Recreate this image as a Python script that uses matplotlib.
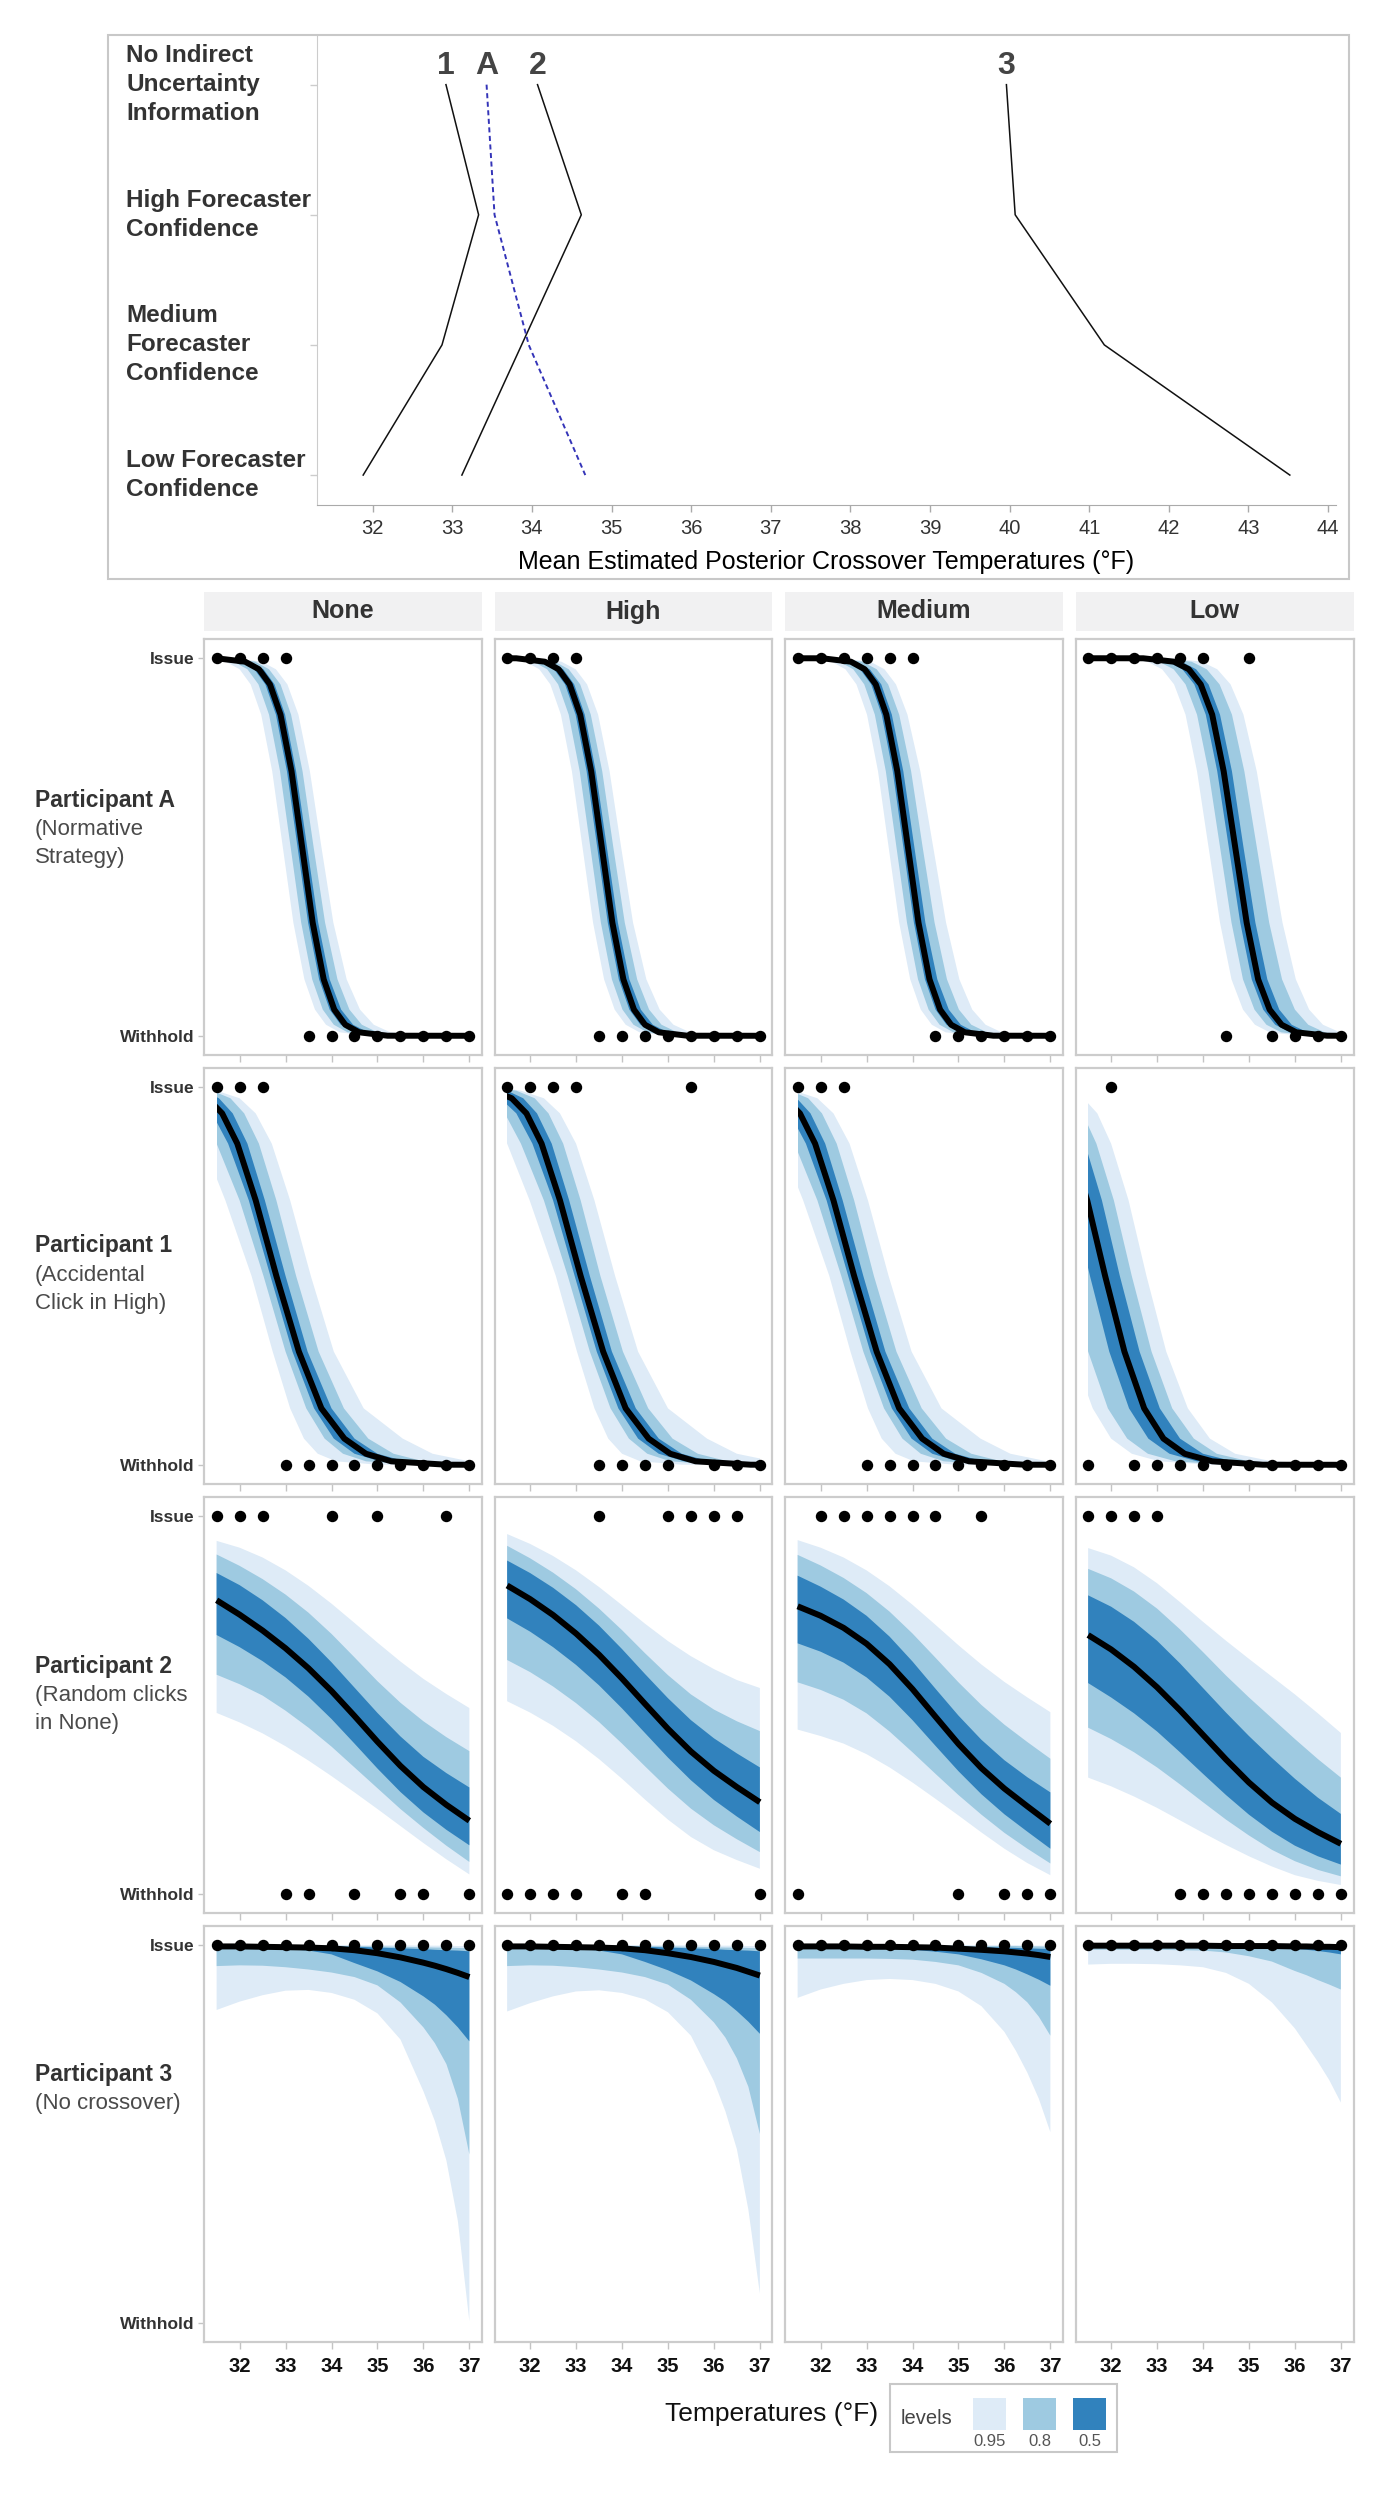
import matplotlib
matplotlib.use('Agg')
import matplotlib.pyplot as plt
from matplotlib.patches import Rectangle

plt.rcParams['font.family'] = ['Liberation Sans', 'DejaVu Sans']

# ---------------- top chart: mean estimated posterior crossover ----------------
CONDITIONS = ['No Indirect\nUncertainty\nInformation', 'High Forecaster\nConfidence',
              'Medium\nForecaster\nConfidence', 'Low Forecaster\nConfidence']
COND_Y = [3, 2, 1, 0]
CROSS_1 = [32.92, 33.33, 32.87, 31.88]
CROSS_A = [33.43, 33.53, 33.96, 34.67]
CROSS_2 = [34.07, 34.62, 33.87, 33.12]
CROSS_3 = [39.96, 40.07, 41.19, 43.52]
TOP_TICKS = [32, 33, 34, 35, 36, 37, 38, 39, 40, 41, 42, 43, 44]

# ---------------- facet grid ----------------
COLUMNS = ['None', 'High', 'Medium', 'Low']
ROW_TITLES = ['Participant A', 'Participant 1', 'Participant 2', 'Participant 3']
ROW_NOTES = [['(Normative', 'Strategy)'], ['(Accidental', 'Click in High)'],
             ['(Random clicks', 'in None)'], ['(No crossover)']]
TEMPS = [31.5, 32.0, 32.5, 33.0, 33.5, 34.0, 34.5, 35.0, 35.5, 36.0, 36.5, 37.0]
BOTTOM_TICKS = [32, 33, 34, 35, 36, 37]

# responses per temperature (1 = Issue, 0 = Withhold), one list per column
RESP_A = [[1, 1, 1, 1, 0, 0, 0, 0, 0, 0, 0, 0],
          [1, 1, 1, 1, 0, 0, 0, 0, 0, 0, 0, 0],
          [1, 1, 1, 1, 1, 1, 0, 0, 0, 0, 0, 0],
          [1, 1, 1, 1, 1, 1, 0, 1, 0, 0, 0, 0]]
RESP_1 = [[1, 1, 1, 0, 0, 0, 0, 0, 0, 0, 0, 0],
          [1, 1, 1, 1, 0, 0, 0, 0, 1, 0, 0, 0],
          [1, 1, 1, 0, 0, 0, 0, 0, 0, 0, 0, 0],
          [0, 1, 0, 0, 0, 0, 0, 0, 0, 0, 0, 0]]
RESP_2 = [[1, 1, 1, 0, 0, 1, 0, 1, 0, 0, 1, 0],
          [0, 0, 0, 0, 1, 0, 0, 1, 1, 1, 1, 0],
          [0, 1, 1, 1, 1, 1, 1, 0, 1, 0, 0, 0],
          [1, 1, 1, 1, 0, 0, 0, 0, 0, 0, 0, 0]]
RESP_3 = [[1, 1, 1, 1, 1, 1, 1, 1, 1, 1, 1, 1],
          [1, 1, 1, 1, 1, 1, 1, 1, 1, 1, 1, 1],
          [1, 1, 1, 1, 1, 1, 1, 1, 1, 1, 1, 1],
          [1, 1, 1, 1, 1, 1, 1, 1, 1, 1, 1, 1]]

# Participants A and 1: temperature where each curve passes these probabilities
# curve order: lo95, lo80, lo50, median, hi50, hi80, hi95
LEVELS = [0.999, 0.99, 0.97, 0.93, 0.85, 0.7, 0.5, 0.3, 0.15, 0.07, 0.03, 0.01, 0.001]

A_NONE = [[31.08, 31.70, 32.00, 32.24, 32.47, 32.71, 32.94, 33.17, 33.41, 33.64, 33.88, 34.18, 34.80],
          [31.25, 31.87, 32.17, 32.41, 32.64, 32.88, 33.11, 33.34, 33.58, 33.81, 34.05, 34.35, 34.97],
          [31.40, 32.02, 32.32, 32.56, 32.79, 33.03, 33.26, 33.49, 33.73, 33.96, 34.20, 34.50, 35.12],
          [31.50, 32.12, 32.42, 32.66, 32.89, 33.13, 33.36, 33.59, 33.83, 34.06, 34.30, 34.60, 35.22],
          [31.60, 32.22, 32.52, 32.76, 32.99, 33.23, 33.47, 33.71, 33.96, 34.21, 34.47, 34.79, 35.44],
          [31.72, 32.34, 32.64, 32.89, 33.12, 33.37, 33.61, 33.86, 34.13, 34.39, 34.66, 35.00, 35.67],
          [31.86, 32.48, 32.79, 33.04, 33.28, 33.53, 33.78, 34.04, 34.33, 34.62, 34.92, 35.28, 35.97]]
A_HIGH = [[31.28, 31.90, 32.20, 32.44, 32.67, 32.91, 33.14, 33.37, 33.61, 33.84, 34.08, 34.38, 35.00],
          [31.45, 32.07, 32.37, 32.61, 32.84, 33.08, 33.31, 33.54, 33.78, 34.01, 34.25, 34.55, 35.17],
          [31.60, 32.22, 32.52, 32.76, 32.99, 33.23, 33.46, 33.69, 33.93, 34.16, 34.40, 34.70, 35.32],
          [31.70, 32.32, 32.62, 32.86, 33.09, 33.33, 33.56, 33.79, 34.03, 34.26, 34.50, 34.80, 35.42],
          [31.80, 32.42, 32.72, 32.96, 33.19, 33.43, 33.67, 33.91, 34.16, 34.41, 34.67, 34.99, 35.64],
          [31.92, 32.54, 32.84, 33.09, 33.32, 33.57, 33.81, 34.06, 34.33, 34.59, 34.86, 35.20, 35.87],
          [32.06, 32.68, 32.99, 33.24, 33.48, 33.73, 33.98, 34.24, 34.53, 34.82, 35.12, 35.48, 36.17]]
A_MEDIUM = [[31.62, 32.24, 32.54, 32.78, 33.01, 33.25, 33.48, 33.71, 33.95, 34.18, 34.42, 34.72, 35.34],
            [31.79, 32.41, 32.71, 32.95, 33.18, 33.42, 33.65, 33.88, 34.12, 34.35, 34.59, 34.89, 35.51],
            [31.94, 32.56, 32.86, 33.10, 33.33, 33.57, 33.80, 34.03, 34.27, 34.50, 34.74, 35.04, 35.66],
            [32.04, 32.66, 32.96, 33.20, 33.43, 33.67, 33.90, 34.13, 34.37, 34.60, 34.84, 35.14, 35.76],
            [32.15, 32.77, 33.07, 33.32, 33.55, 33.80, 34.04, 34.28, 34.54, 34.79, 35.05, 35.37, 36.02],
            [32.29, 32.91, 33.22, 33.47, 33.71, 33.97, 34.22, 34.48, 34.75, 35.01, 35.28, 35.62, 36.28],
            [32.46, 33.08, 33.39, 33.64, 33.89, 34.17, 34.45, 34.73, 35.02, 35.30, 35.59, 35.94, 36.61]]
A_LOW = [[32.12, 32.79, 33.11, 33.37, 33.62, 33.87, 34.12, 34.37, 34.62, 34.87, 35.13, 35.45, 36.12],
         [32.37, 33.04, 33.36, 33.62, 33.87, 34.12, 34.37, 34.62, 34.87, 35.12, 35.38, 35.70, 36.37],
         [32.56, 33.23, 33.55, 33.81, 34.06, 34.31, 34.56, 34.81, 35.06, 35.31, 35.57, 35.89, 36.56],
         [32.70, 33.37, 33.69, 33.95, 34.20, 34.45, 34.70, 34.95, 35.20, 35.45, 35.71, 36.03, 36.70],
         [32.86, 33.53, 33.85, 34.12, 34.37, 34.63, 34.88, 35.14, 35.40, 35.66, 35.93, 36.27, 36.96],
         [33.08, 33.75, 34.08, 34.36, 34.63, 34.90, 35.17, 35.44, 35.72, 36.00, 36.29, 36.65, 37.36],
         [33.30, 33.97, 34.31, 34.60, 34.88, 35.17, 35.45, 35.73, 36.02, 36.31, 36.61, 36.98, 37.70]]

P1_NONE = [[29.0, 29.8, 30.3, 30.8, 31.2, 31.69, 32.26, 32.72, 33.1, 33.4, 33.7, 34.1, 35.0],
           [29.5, 30.3, 30.8, 31.15, 31.5, 32.0, 32.52, 33.0, 33.45, 33.85, 34.25, 34.75, 35.8],
           [29.9, 30.6, 31.05, 31.4, 31.75, 32.2, 32.67, 33.15, 33.62, 34.05, 34.5, 35.05, 36.2],
           [30.3, 30.9, 31.3, 31.62, 31.95, 32.35, 32.8, 33.29, 33.78, 34.28, 34.75, 35.3, 36.5],
           [30.6, 31.2, 31.55, 31.85, 32.17, 32.55, 33.0, 33.48, 34.0, 34.5, 35.0, 35.6, 37.0],
           [30.8, 31.4, 31.8, 32.1, 32.42, 32.8, 33.23, 33.72, 34.27, 34.8, 35.35, 36.0, 37.5],
           [31.0, 31.5, 32.0, 32.35, 32.7, 33.1, 33.55, 34.05, 34.7, 35.55, 36.2, 37.0, 38.0]]
P1_HIGH = [[29.3, 30.1, 30.6, 31.1, 31.5, 31.99, 32.56, 33.02, 33.4, 33.7, 34.0, 34.4, 35.3],
           [29.8, 30.6, 31.1, 31.45, 31.8, 32.3, 32.82, 33.3, 33.75, 34.15, 34.55, 35.05, 36.1],
           [30.2, 30.9, 31.35, 31.7, 32.05, 32.5, 32.97, 33.45, 33.92, 34.35, 34.8, 35.35, 36.5],
           [30.6, 31.2, 31.6, 31.92, 32.25, 32.65, 33.1, 33.59, 34.08, 34.58, 35.05, 35.6, 36.8],
           [30.9, 31.5, 31.85, 32.15, 32.47, 32.85, 33.3, 33.78, 34.3, 34.8, 35.3, 35.9, 37.3],
           [31.1, 31.7, 32.1, 32.4, 32.72, 33.1, 33.53, 34.02, 34.57, 35.1, 35.65, 36.3, 37.8],
           [31.3, 31.8, 32.3, 32.65, 33.0, 33.4, 33.85, 34.35, 35.0, 35.85, 36.5, 37.3, 38.3]]
P1_MEDIUM = [[28.93, 29.73, 30.23, 30.73, 31.13, 31.62, 32.19, 32.65, 33.03, 33.33, 33.63, 34.03, 34.93],
             [29.43, 30.23, 30.73, 31.08, 31.43, 31.93, 32.45, 32.93, 33.38, 33.78, 34.18, 34.68, 35.73],
             [29.83, 30.53, 30.98, 31.33, 31.68, 32.13, 32.6, 33.08, 33.55, 33.98, 34.43, 34.98, 36.13],
             [30.23, 30.83, 31.23, 31.55, 31.88, 32.28, 32.73, 33.22, 33.71, 34.21, 34.68, 35.23, 36.43],
             [30.53, 31.13, 31.48, 31.78, 32.1, 32.48, 32.93, 33.41, 33.93, 34.43, 34.93, 35.53, 36.93],
             [30.73, 31.33, 31.73, 32.03, 32.35, 32.73, 33.16, 33.65, 34.2, 34.73, 35.28, 35.93, 37.43],
             [30.93, 31.43, 31.93, 32.28, 32.63, 33.03, 33.48, 33.98, 34.63, 35.48, 36.13, 36.93, 37.93]]
P1_LOW = [[27.5, 28.5, 29.0, 29.4, 29.8, 30.25, 30.7, 31.15, 31.6, 32.0, 32.45, 33.05, 34.15],
          [28.5, 29.2, 29.65, 30.0, 30.3, 30.7, 31.08, 31.5, 31.93, 32.35, 32.8, 33.4, 34.5],
          [29.1, 29.75, 30.15, 30.47, 30.77, 31.15, 31.54, 31.96, 32.39, 32.81, 33.27, 33.87, 34.97],
          [29.5, 30.1, 30.5, 30.8, 31.1, 31.48, 31.87, 32.29, 32.72, 33.14, 33.6, 34.2, 35.3],
          [29.8, 30.42, 30.82, 31.12, 31.43, 31.8, 32.19, 32.62, 33.06, 33.5, 34.0, 34.65, 35.8],
          [30.1, 30.68, 31.08, 31.38, 31.68, 32.06, 32.45, 32.88, 33.33, 33.8, 34.3, 35.0, 36.3],
          [30.4, 31.0, 31.4, 31.7, 32.0, 32.38, 32.77, 33.2, 33.67, 34.15, 34.7, 35.5, 37.0]]

# Participant 2: probability of each curve at TEMPS
P2_NONE = [[0.479, 0.454, 0.425, 0.391, 0.353, 0.312, 0.269, 0.225, 0.180, 0.135, 0.092, 0.052],
           [0.580, 0.555, 0.525, 0.485, 0.440, 0.390, 0.335, 0.280, 0.225, 0.175, 0.128, 0.085],
           [0.685, 0.653, 0.616, 0.573, 0.522, 0.463, 0.398, 0.332, 0.270, 0.216, 0.170, 0.129],
           [0.777, 0.739, 0.697, 0.650, 0.597, 0.537, 0.471, 0.403, 0.339, 0.283, 0.236, 0.194],
           [0.849, 0.817, 0.777, 0.730, 0.675, 0.613, 0.546, 0.479, 0.417, 0.363, 0.320, 0.282],
           [0.898, 0.868, 0.833, 0.792, 0.744, 0.688, 0.626, 0.563, 0.506, 0.457, 0.415, 0.378],
           [0.934, 0.916, 0.890, 0.856, 0.815, 0.768, 0.717, 0.665, 0.615, 0.569, 0.529, 0.492]]
P2_HIGH = [[0.510, 0.480, 0.445, 0.404, 0.357, 0.305, 0.250, 0.197, 0.151, 0.116, 0.090, 0.067],
           [0.619, 0.587, 0.549, 0.505, 0.455, 0.398, 0.338, 0.279, 0.226, 0.182, 0.145, 0.111],
           [0.729, 0.694, 0.653, 0.606, 0.552, 0.491, 0.426, 0.361, 0.301, 0.249, 0.205, 0.164],
           [0.816, 0.780, 0.738, 0.689, 0.633, 0.570, 0.503, 0.437, 0.377, 0.326, 0.283, 0.243],
           [0.882, 0.849, 0.810, 0.764, 0.710, 0.648, 0.582, 0.518, 0.460, 0.412, 0.372, 0.335],
           [0.921, 0.888, 0.850, 0.806, 0.755, 0.698, 0.637, 0.579, 0.528, 0.488, 0.457, 0.431],
           [0.952, 0.926, 0.894, 0.856, 0.812, 0.764, 0.715, 0.669, 0.629, 0.595, 0.566, 0.545]]
P2_MEDIUM = [[0.435, 0.418, 0.398, 0.370, 0.335, 0.295, 0.252, 0.208, 0.163, 0.120, 0.082, 0.050],
             [0.560, 0.540, 0.514, 0.478, 0.430, 0.375, 0.318, 0.262, 0.210, 0.162, 0.120, 0.081],
             [0.663, 0.641, 0.612, 0.573, 0.522, 0.460, 0.392, 0.325, 0.264, 0.211, 0.165, 0.120],
             [0.761, 0.736, 0.704, 0.662, 0.608, 0.542, 0.469, 0.397, 0.333, 0.279, 0.232, 0.186],
             [0.842, 0.813, 0.779, 0.736, 0.681, 0.615, 0.543, 0.472, 0.408, 0.354, 0.309, 0.269],
             [0.897, 0.869, 0.836, 0.796, 0.747, 0.689, 0.625, 0.560, 0.500, 0.448, 0.402, 0.358],
             [0.936, 0.916, 0.890, 0.856, 0.814, 0.765, 0.712, 0.658, 0.607, 0.561, 0.520, 0.481]]
P2_LOW = [[0.308, 0.285, 0.258, 0.228, 0.195, 0.162, 0.130, 0.100, 0.073, 0.050, 0.035, 0.024],
          [0.440, 0.410, 0.375, 0.335, 0.290, 0.243, 0.197, 0.155, 0.117, 0.087, 0.064, 0.047],
          [0.558, 0.520, 0.478, 0.430, 0.375, 0.318, 0.262, 0.210, 0.165, 0.128, 0.100, 0.078],
          [0.685, 0.647, 0.601, 0.547, 0.486, 0.421, 0.356, 0.295, 0.242, 0.199, 0.164, 0.133],
          [0.790, 0.760, 0.720, 0.670, 0.610, 0.545, 0.480, 0.418, 0.360, 0.305, 0.255, 0.212],
          [0.860, 0.835, 0.800, 0.755, 0.700, 0.640, 0.578, 0.520, 0.465, 0.410, 0.357, 0.308],
          [0.915, 0.895, 0.864, 0.822, 0.772, 0.720, 0.670, 0.622, 0.575, 0.528, 0.478, 0.426]]

# Participant 3: probability of each curve at P3_TEMPS
P3_TEMPS = [31.5, 32.0, 32.5, 33.0, 33.5, 34.0, 34.5, 35.0, 35.5, 36.0, 36.25, 36.5, 36.75, 37.0]
P3_NONE = [[0.828, 0.850, 0.867, 0.879, 0.881, 0.873, 0.855, 0.819, 0.750, 0.613, 0.534, 0.430, 0.270, 0.005],
           [0.944, 0.946, 0.945, 0.941, 0.935, 0.927, 0.915, 0.893, 0.848, 0.782, 0.740, 0.685, 0.593, 0.446],
           [0.993, 0.992, 0.991, 0.989, 0.985, 0.975, 0.952, 0.930, 0.902, 0.864, 0.842, 0.814, 0.782, 0.745],
           [0.996, 0.996, 0.995, 0.994, 0.993, 0.991, 0.986, 0.978, 0.967, 0.953, 0.945, 0.936, 0.926, 0.915],
           [0.998, 0.998, 0.997, 0.997, 0.996, 0.996, 0.995, 0.993, 0.991, 0.989, 0.987, 0.986, 0.985, 0.983],
           [0.999, 0.999, 0.998, 0.998, 0.998, 0.998, 0.997, 0.996, 0.995, 0.994, 0.993, 0.993, 0.992, 0.991],
           [1.000, 1.000, 1.000, 1.000, 0.999, 0.999, 0.999, 0.999, 0.999, 0.998, 0.998, 0.998, 0.997, 0.997]]
P3_HIGH = [[0.824, 0.846, 0.864, 0.877, 0.880, 0.873, 0.856, 0.822, 0.760, 0.640, 0.560, 0.460, 0.300, 0.078],
           [0.944, 0.946, 0.945, 0.941, 0.935, 0.927, 0.915, 0.895, 0.855, 0.795, 0.755, 0.700, 0.625, 0.500],
           [0.994, 0.993, 0.992, 0.990, 0.985, 0.975, 0.955, 0.933, 0.906, 0.870, 0.850, 0.825, 0.797, 0.765],
           [0.996, 0.996, 0.995, 0.994, 0.993, 0.991, 0.986, 0.978, 0.968, 0.955, 0.947, 0.939, 0.929, 0.919],
           [0.998, 0.998, 0.997, 0.997, 0.996, 0.996, 0.995, 0.993, 0.991, 0.989, 0.987, 0.986, 0.985, 0.983],
           [0.999, 0.999, 0.998, 0.998, 0.998, 0.998, 0.997, 0.996, 0.995, 0.994, 0.993, 0.993, 0.992, 0.991],
           [1.000, 1.000, 1.000, 1.000, 0.999, 0.999, 0.999, 0.999, 0.999, 0.998, 0.998, 0.998, 0.997, 0.997]]
P3_MEDIUM = [[0.860, 0.882, 0.897, 0.907, 0.910, 0.907, 0.897, 0.877, 0.838, 0.770, 0.720, 0.662, 0.593, 0.505],
             [0.964, 0.964, 0.964, 0.964, 0.963, 0.961, 0.955, 0.946, 0.926, 0.897, 0.875, 0.848, 0.810, 0.760],
             [0.994, 0.994, 0.993, 0.992, 0.990, 0.987, 0.982, 0.975, 0.962, 0.946, 0.935, 0.922, 0.908, 0.892],
             [0.996, 0.996, 0.996, 0.995, 0.995, 0.994, 0.993, 0.990, 0.987, 0.983, 0.980, 0.977, 0.973, 0.968],
             [0.998, 0.998, 0.998, 0.997, 0.997, 0.997, 0.996, 0.995, 0.994, 0.993, 0.992, 0.991, 0.990, 0.989],
             [0.999, 0.999, 0.999, 0.998, 0.998, 0.998, 0.998, 0.998, 0.997, 0.997, 0.997, 0.996, 0.996, 0.995],
             [1.000, 1.000, 1.000, 1.000, 1.000, 0.999, 0.999, 0.999, 0.999, 0.999, 0.999, 0.998, 0.998, 0.998]]
P3_LOW = [[0.948, 0.950, 0.950, 0.949, 0.946, 0.941, 0.926, 0.897, 0.848, 0.779, 0.735, 0.691, 0.642, 0.583],
          [0.987, 0.987, 0.987, 0.987, 0.986, 0.985, 0.980, 0.970, 0.956, 0.931, 0.920, 0.907, 0.895, 0.882],
          [0.997, 0.997, 0.997, 0.997, 0.996, 0.996, 0.995, 0.994, 0.992, 0.990, 0.987, 0.984, 0.980, 0.975],
          [0.998, 0.998, 0.998, 0.998, 0.998, 0.998, 0.997, 0.997, 0.997, 0.996, 0.996, 0.995, 0.995, 0.994],
          [0.999, 0.999, 0.999, 0.999, 0.999, 0.999, 0.999, 0.999, 0.998, 0.998, 0.998, 0.998, 0.998, 0.997],
          [1.000, 1.000, 1.000, 1.000, 1.000, 1.000, 0.999, 0.999, 0.999, 0.999, 0.999, 0.999, 0.999, 0.999],
          [1.000, 1.000, 1.000, 1.000, 1.000, 1.000, 1.000, 1.000, 1.000, 1.000, 1.000, 1.000, 1.000, 1.000]]

LEVEL_NAMES = ['0.95', '0.8', '0.5']
C95, C80, C50 = '#deebf7', '#9ecae1', '#3182bd'

# ---------------- layout (pixels) ----------------
W, H = 1395, 2500
COL_X = [204, 494.5, 785, 1075.5]
PANEL_W = 278
ROW_Y = [639, 1068, 1497, 1926]
PANEL_H = 416
ROW_LABEL_Y = [800, 1246, 1666, 2074]

fig = plt.figure(figsize=(W / 100, H / 100), dpi=100)


def px_axes(left, top, width, height):
    return fig.add_axes([left / W, 1 - (top + height) / H, width / W, height / H])


def px_rect(left, top, width, height, **kw):
    r = Rectangle((left / W, 1 - (top + height) / H), width / W, height / H,
                  transform=fig.transFigure, **kw)
    fig.patches.append(r)
    return r


# ---------------- top chart ----------------
px_rect(108, 35, 1241, 544, fill=False, edgecolor='#c8c8c8', lw=1.5)
top = px_axes(317, 36.5, 1019, 468.5)
top.plot(CROSS_1, COND_Y, color='#111111', lw=1.1)
top.plot(CROSS_2, COND_Y, color='#111111', lw=1.1)
top.plot(CROSS_3, COND_Y, color='#111111', lw=1.1)
top.plot(CROSS_A, COND_Y, color='#3434b8', lw=1.4, ls=(0, (2.6, 1.8)))
for name, xs in (('1', CROSS_1), ('A', CROSS_A), ('2', CROSS_2), ('3', CROSS_3)):
    top.text(xs[0], 3.14, name, ha='center', va='center', fontsize=23,
             fontweight='bold', color='#444444')
top.set_xlim(31.30, 44.10)
top.set_ylim(-0.23, 3.37)
top.set_xticks(TOP_TICKS)
top.set_xticklabels([str(t) for t in TOP_TICKS], fontsize=14.5, color='#333333')
top.set_yticks(COND_Y)
top.set_yticklabels([])
top.tick_params(axis='x', length=5, width=1, color='#aaaaaa', pad=5)
top.tick_params(axis='y', length=5, width=1, color='#cccccc')
for s in ('top', 'right'):
    top.spines[s].set_visible(False)
top.spines['left'].set_color('#cccccc')
top.spines['bottom'].set_color('#aaaaaa')
top.set_xlabel('Mean Estimated Posterior Crossover Temperatures (°F)', fontsize=18,
               labelpad=9)
for lab, yv in zip(CONDITIONS, COND_Y):
    top.text((126 - 317) / 1019, yv, lab, transform=top.get_yaxis_transform(),
             ha='left', va='center', fontsize=17.5, fontweight='bold',
             color='#333333', linespacing=1.33)

# ---------------- facet panels ----------------
SIGMOID_ROWS = [[A_NONE, A_HIGH, A_MEDIUM, A_LOW], [P1_NONE, P1_HIGH, P1_MEDIUM, P1_LOW]]
GRID_ROWS = [[P2_NONE, P2_HIGH, P2_MEDIUM, P2_LOW], [P3_NONE, P3_HIGH, P3_MEDIUM, P3_LOW]]
GRID_X = [TEMPS, P3_TEMPS]
RESPONSES = [RESP_A, RESP_1, RESP_2, RESP_3]


def draw_sigmoid(ax, curves):
    ys = [1.0] + LEVELS + [0.0]
    ext = [[20.0] + list(cv) + [45.0] for cv in curves]
    clip = Rectangle((TEMPS[0], -0.2), TEMPS[-1] - TEMPS[0], 1.4, transform=ax.transData)
    for lo, hi, colr in ((0, 6, C95), (1, 5, C80), (2, 4, C50)):
        band = ax.fill_betweenx(ys, ext[lo], ext[hi], facecolor=colr, edgecolor='none')
        band.set_clip_path(clip)
    ln, = ax.plot(ext[3], ys, color='black', lw=4.3, solid_capstyle='butt',
                  solid_joinstyle='round', zorder=3)
    ln.set_clip_path(clip)


def draw_grid(ax, xs, curves):
    for lo, hi, colr in ((0, 6, C95), (1, 5, C80), (2, 4, C50)):
        ax.fill_between(xs, curves[lo], curves[hi], facecolor=colr, edgecolor='none')
    ax.plot(xs, curves[3], color='black', lw=4.3, solid_capstyle='butt',
            solid_joinstyle='round', zorder=3)


for c, name in enumerate(COLUMNS):
    strip = px_axes(COL_X[c], 592, PANEL_W, 39)
    strip.set_facecolor('#f1f1f2')
    strip.set_xticks([])
    strip.set_yticks([])
    for s in strip.spines.values():
        s.set_visible(False)
    strip.text(0.5, 0.5, name, ha='center', va='center', fontsize=18,
               fontweight='bold', color='#333333', transform=strip.transAxes)

for r in range(4):
    for c in range(4):
        ax = px_axes(COL_X[c], ROW_Y[r], PANEL_W, PANEL_H)
        if r < 2:
            draw_sigmoid(ax, SIGMOID_ROWS[r][c])
        else:
            draw_grid(ax, GRID_X[r - 2], GRID_ROWS[r - 2][c])
        ax.plot(TEMPS, RESPONSES[r][c], 'o', color='black', ms=7.2, zorder=4)
        ax.set_xlim(31.225, 37.275)
        ax.set_ylim(-0.05, 1.05)
        for s in ax.spines.values():
            s.set_color('#cccccc')
            s.set_linewidth(1.6)
        ax.set_xticks(BOTTOM_TICKS)
        ax.tick_params(axis='x', length=5, width=1, color='#c4c4c4', pad=6)
        if r == 3:
            ax.set_xticklabels([str(t) for t in BOTTOM_TICKS], fontsize=14.5,
                               fontweight='bold', color='#111111')
        else:
            ax.set_xticklabels([])
        if c == 0:
            ax.set_yticks([0, 1])
            ax.set_yticklabels(['Withhold', 'Issue'], fontsize=12.5,
                               fontweight='bold', color='#333333')
            ax.tick_params(axis='y', length=4, width=1, color='#c4c4c4', pad=3)
        else:
            ax.set_yticks([])

# row labels
for r in range(4):
    y0 = ROW_LABEL_Y[r]
    fig.text(35 / W, 1 - y0 / H, ROW_TITLES[r], ha='left', va='center',
             fontsize=16.5, fontweight='bold', color='#333333')
    for k, note in enumerate(ROW_NOTES[r]):
        fig.text(35 / W, 1 - (y0 + 29 * (k + 1)) / H, note, ha='left', va='center',
                 fontsize=16, color='#4a4a4a')

# bottom axis title and legend
fig.text(772 / W, 1 - 2414 / H, 'Temperatures (°F)', ha='center', va='center',
         fontsize=19, color='#111111')
px_rect(890, 2384, 227, 68, fill=False, edgecolor='#c8c8c8', lw=1.5)
fig.text(901 / W, 1 - 2418 / H, 'levels', ha='left', va='center', fontsize=14.5,
         color='#444444')
for k, (colr, lab) in enumerate(zip((C95, C80, C50), LEVEL_NAMES)):
    x0 = 973 + 50 * k
    px_rect(x0, 2398, 33, 32, facecolor=colr, edgecolor='none')
    fig.text((x0 + 16.5) / W, 1 - 2441 / H, lab, ha='center', va='center',
             fontsize=12, color='#555555')

fig.savefig('out.png', dpi=100)
